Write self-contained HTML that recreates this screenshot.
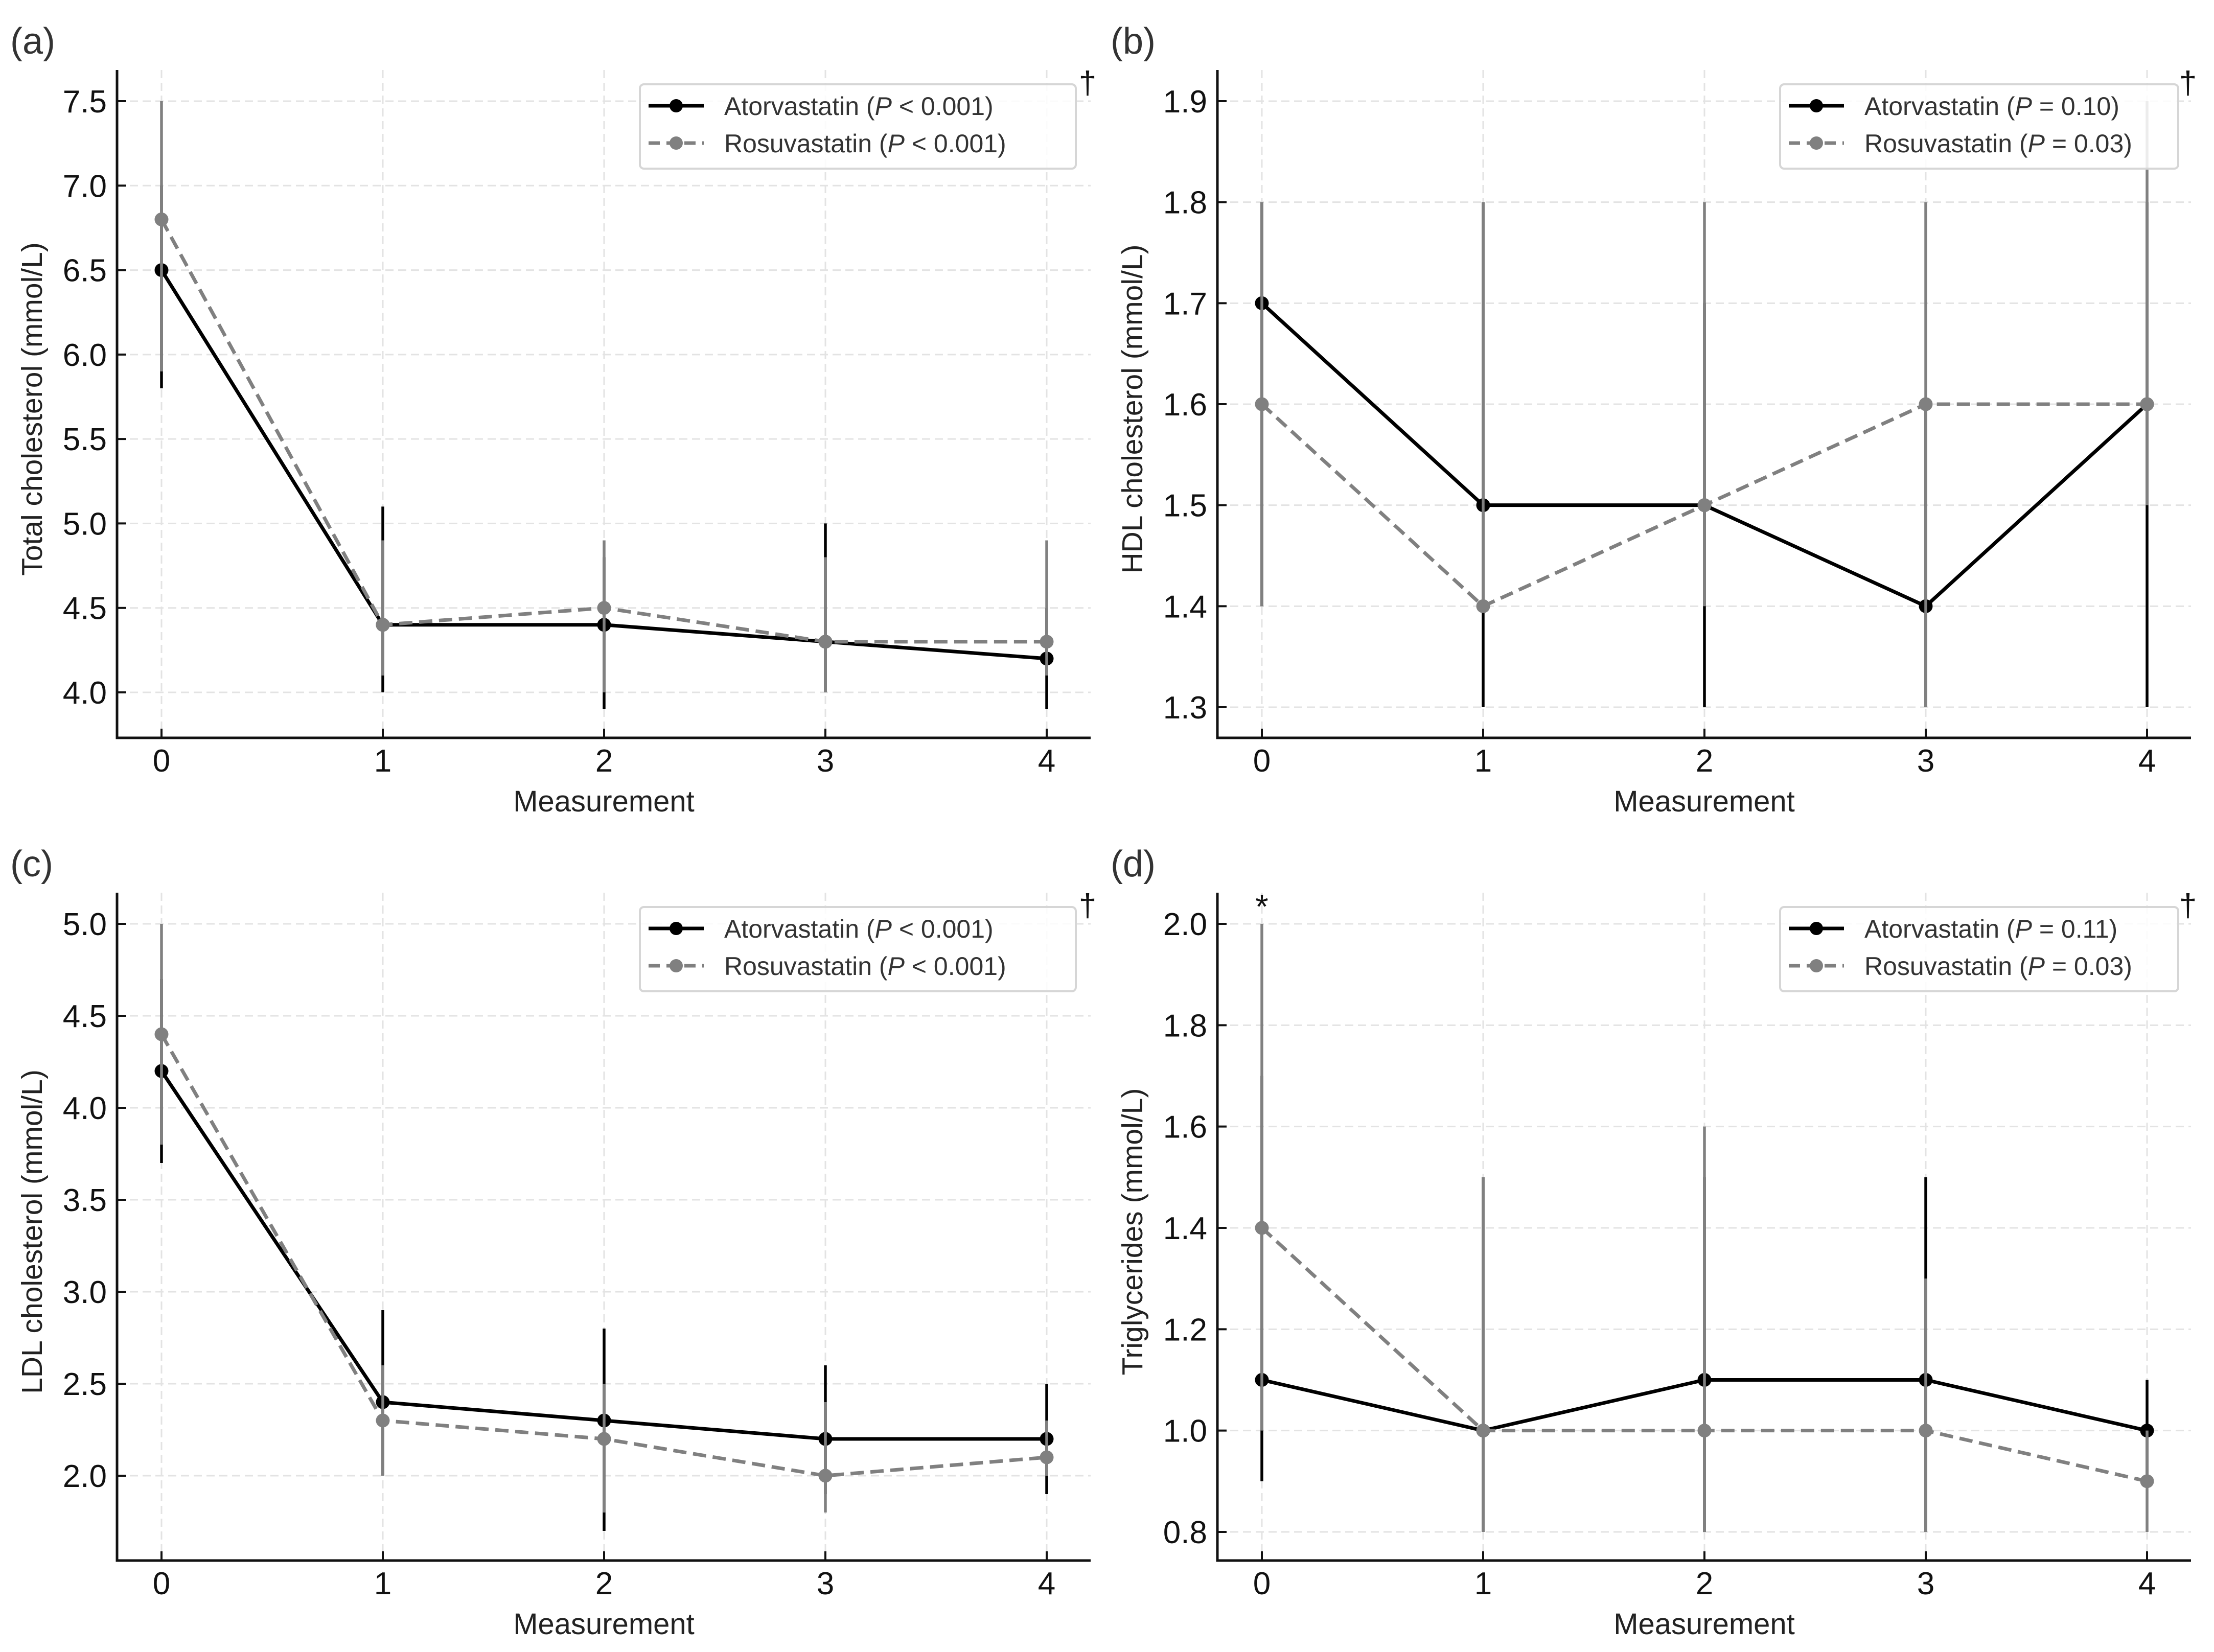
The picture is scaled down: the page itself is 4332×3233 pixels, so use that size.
<!DOCTYPE html>
<html><head><meta charset="utf-8">
<style>
html,body{margin:0;padding:0;background:#fff;}
svg{display:block;font-family:"Liberation Sans",Arial,sans-serif;}
</style></head>
<body>
<svg id="fig" width="4332" height="3233" viewBox="0 0 4332 3233" xmlns="http://www.w3.org/2000/svg"></svg>
<script>
const xCategories = [0, 1, 2, 3, 4];
// Panel (a) Total cholesterol
const aTicks = [4.0, 4.5, 5.0, 5.5, 6.0, 6.5, 7.0, 7.5];
const aAtor = [6.5, 4.4, 4.4, 4.3, 4.2];
const aAtorLo = [5.8, 4.0, 3.9, 4.0, 3.9];
const aAtorHi = [7.0, 5.1, 4.8, 5.0, 4.5];
const aRosu = [6.8, 4.4, 4.5, 4.3, 4.3];
const aRosuLo = [5.9, 4.1, 4.0, 4.0, 4.1];
const aRosuHi = [7.5, 4.9, 4.9, 4.8, 4.9];
// Panel (b) HDL
const bTicks = [1.3, 1.4, 1.5, 1.6, 1.7, 1.8, 1.9];
const bAtor = [1.7, 1.5, 1.5, 1.4, 1.6];
const bAtorLo = [1.4, 1.3, 1.3, 1.3, 1.3];
const bAtorHi = [1.8, 1.8, 1.7, 1.6, 1.8];
const bRosu = [1.6, 1.4, 1.5, 1.6, 1.6];
const bRosuLo = [1.4, 1.4, 1.4, 1.3, 1.5];
const bRosuHi = [1.8, 1.8, 1.8, 1.8, 1.9];
// Panel (c) LDL
const cTicks = [2.0, 2.5, 3.0, 3.5, 4.0, 4.5, 5.0];
const cAtor = [4.2, 2.4, 2.3, 2.2, 2.2];
const cAtorLo = [3.7, 2.0, 1.7, 1.9, 1.9];
const cAtorHi = [4.7, 2.9, 2.8, 2.6, 2.5];
const cRosu = [4.4, 2.3, 2.2, 2.0, 2.1];
const cRosuLo = [3.8, 2.0, 1.8, 1.8, 2.0];
const cRosuHi = [5.0, 2.6, 2.5, 2.4, 2.3];
// Panel (d) Triglycerides
const dTicks = [0.8, 1.0, 1.2, 1.4, 1.6, 1.8, 2.0];
const dAtor = [1.1, 1.0, 1.1, 1.1, 1.0];
const dAtorLo = [0.9, 0.8, 0.8, 0.8, 0.9];
const dAtorHi = [1.7, 1.5, 1.5, 1.5, 1.1];
const dRosu = [1.4, 1.0, 1.0, 1.0, 0.9];
const dRosuLo = [1.0, 0.8, 0.8, 0.8, 0.8];
const dRosuHi = [2.0, 1.5, 1.6, 1.3, 1.0];

const NS = "http://www.w3.org/2000/svg";
const svg = document.getElementById('fig');
function mk(tag, attrs, parent){
  const e = document.createElementNS(NS, tag);
  for (const k in attrs) e.setAttribute(k, attrs[k]);
  (parent||svg).appendChild(e);
  return e;
}
const fmt = v => v.toFixed(1);

const panels = [
  {id:'a', label:'(a)', ox:0, oy:0, ylabel:'Total cholesterol (mmol/L)', ticks:aTicks, t0:7.5, y0:198, t1:4.0, y1:1355,
   ator:aAtor, atorLo:aAtorLo, atorHi:aAtorHi, rosu:aRosu, rosuLo:aRosuLo, rosuHi:aRosuHi,
   pA:'< 0.001', pR:'< 0.001', legX:1252, legW:853, star:false},
  {id:'b', label:'(b)', ox:2153, oy:0, ylabel:'HDL cholesterol (mmol/L)', ticks:bTicks, t0:1.9, y0:198, t1:1.3, y1:1384,
   ator:bAtor, atorLo:bAtorLo, atorHi:bAtorHi, rosu:bRosu, rosuLo:bRosuLo, rosuHi:bRosuHi,
   pA:'= 0.10', pR:'= 0.03', legX:3483, legW:779, star:false},
  {id:'c', label:'(c)', ox:0, oy:1610, ylabel:'LDL cholesterol (mmol/L)', ticks:cTicks, t0:5.0, y0:1808, t1:2.0, y1:2888,
   ator:cAtor, atorLo:cAtorLo, atorHi:cAtorHi, rosu:cRosu, rosuLo:cRosuLo, rosuHi:cRosuHi,
   pA:'< 0.001', pR:'< 0.001', legX:1252, legW:853, star:false},
  {id:'d', label:'(d)', ox:2153, oy:1610, ylabel:'Triglycerides (mmol/L)', ticks:dTicks, t0:2.0, y0:1808, t1:0.8, y1:2998,
   ator:dAtor, atorLo:dAtorLo, atorHi:dAtorHi, rosu:dRosu, rosuLo:dRosuLo, rosuHi:dRosuHi,
   pA:'= 0.11', pR:'= 0.03', legX:3483, legW:779, star:true}
];

panels.forEach(p => {
  const g = mk('g', {});
  
  
  const left = 229 + p.ox, right = 2134 + p.ox, top = 137 + p.oy, bottom = 1444 + p.oy;
  const xScale = v => 316 + p.ox + v * 433;
  const yScale = v => p.y0 + (v - p.t0) * (p.y1 - p.y0) / (p.t1 - p.t0);

  const grid = mk('g', {stroke:'#e3e3e3','stroke-width':3,'stroke-dasharray':'16 9'}, g);
  
  
  xCategories.forEach(c => mk('line', {x1:xScale(c), x2:xScale(c), y1:top, y2:bottom}, grid));
  p.ticks.forEach(t => mk('line', {x1:left, x2:right, y1:yScale(t), y2:yScale(t)}, grid));

  const ax = mk('g', {stroke:'#111','stroke-width':5}, g);
  
  
  mk('line', {x1:left, x2:left, y1:top, y2:bottom+2.5}, ax);
  mk('line', {x1:left-2.5, x2:right, y1:bottom, y2:bottom}, ax);
  p.ticks.forEach(t => {
    mk('line', {x1:left, x2:left+18, y1:yScale(t), y2:yScale(t), 'stroke-width':4}, ax);
    const tl = mk('text', {x:left-20, y:yScale(t)+22, 'text-anchor':'end','font-size':62, fill:'#111', stroke:'none'}, g);
    tl.textContent = fmt(t);
    
    
  });
  xCategories.forEach(c => {
    mk('line', {x1:xScale(c), x2:xScale(c), y1:bottom, y2:bottom-18, 'stroke-width':4}, ax);
    const tl = mk('text', {x:xScale(c), y:bottom+66, 'text-anchor':'middle','font-size':62, fill:'#111'}, g);
    tl.textContent = c;
    
    
  });

  const xl = mk('text', {x:(left+right)/2, y:bottom+144, 'text-anchor':'middle','font-size':58, fill:'#222'}, g);
  xl.textContent = 'Measurement';
  
  
  const cy = (top+bottom)/2 + 10;
  const yl = mk('text', {x:0, y:0, transform:`translate(${62+p.ox+20},${cy}) rotate(-90)`, 'text-anchor':'middle','font-size':57, fill:'#222'}, g);
  yl.textContent = p.ylabel;
  
  

  const pl = mk('text', {x:20 + p.ox, y:105 + p.oy, 'font-size':72, fill:'#333'}, g);
  pl.textContent = p.label;
  
  

  function series(vals, lo, hi, color, dashed, name){
    const sg = mk('g', {}, g);
    
    
    vals.forEach((v, i) => {
      const eb = mk('line', {x1:xScale(xCategories[i]), x2:xScale(xCategories[i]), y1:yScale(lo[i]), y2:yScale(hi[i]), stroke:color, 'stroke-width':5.5}, sg);
      
      
    });
    const pts = vals.map((v, i) => xScale(xCategories[i]) + ',' + yScale(v)).join(' ');
    const ln = mk('polyline', {points:pts, fill:'none', stroke:color, 'stroke-width':7}, sg);
    if (dashed) ln.setAttribute('stroke-dasharray', '26 13');
    
    
    vals.forEach((v, i) => {
      const m = mk('circle', {cx:xScale(xCategories[i]), cy:yScale(v), r:13.5, fill:color}, sg);
      
      
    });
  }
  series(p.ator, p.atorLo, p.atorHi, '#000', false, 'atorvastatin');
  series(p.rosu, p.rosuLo, p.rosuHi, '#808080', true, 'rosuvastatin');

  const lg = mk('g', {}, g);
  
  
  const ly = 165 + p.oy;
  mk('rect', {x:p.legX, y:ly, width:p.legW, height:165, rx:8, fill:'#fff', 'fill-opacity':0.85, stroke:'#d6d6d6','stroke-width':4}, lg);
  [['Atorvastatin', p.pA, '#000', false, 42], ['Rosuvastatin', p.pR, '#808080', true, 115]].forEach(r => {
    const e = mk('g', {}, lg);
    
    
    const yy = ly + r[4];
    const l = mk('line', {x1:p.legX+17, x2:p.legX+125, y1:yy, y2:yy, stroke:r[2], 'stroke-width':7}, e);
    if (r[3]) l.setAttribute('stroke-dasharray', '22 13');
    mk('circle', {cx:p.legX+71, cy:yy, r:13, fill:r[2]}, e);
    const t = mk('text', {x:p.legX+165, y:yy+18, 'font-size':50, fill:'#333'}, e);
    t.innerHTML = r[0] + ' (<tspan font-style="italic">P</tspan> ' + r[1].replace('<','&lt;') + ')';
  });

  const dg = mk('text', {x:right-6, y:top+46, 'text-anchor':'middle','font-size':62, fill:'#111'}, g);
  dg.textContent = '†';
  
  
  if (p.star) {
    const st = mk('text', {x:xScale(0), y:top+50, 'text-anchor':'middle','font-size':66, fill:'#111'}, g);
    st.textContent = '*';
    
    
  }
});
</script>
</body></html>
